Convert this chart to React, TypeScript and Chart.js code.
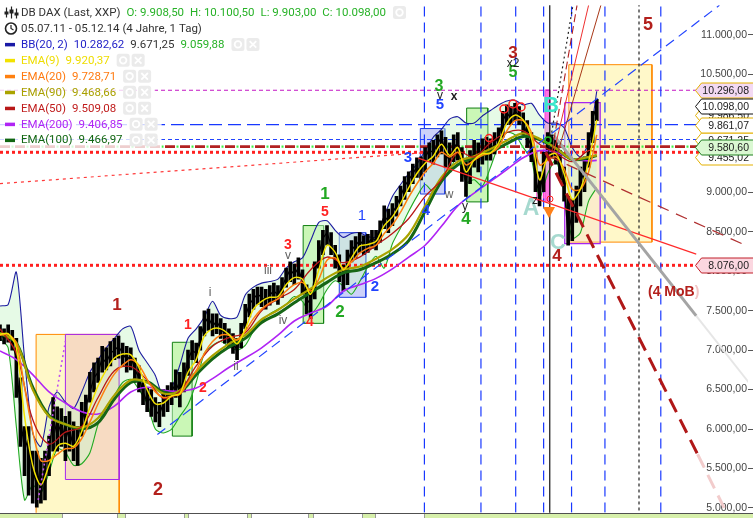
import React, { useEffect, useRef } from 'react';
import { Chart, registerables } from 'chart.js';

Chart.register(...registerables);

// ---------- scale ranges ----------
const X_MAX = 1098; // trading days shown (data + projection space)
const Y_MIN = 4939;
const Y_MAX = 11373;
const yTickValues = [5000, 5500, 6000, 6500, 7000, 7500, 8000, 8500, 9000, 9500, 10000, 10500, 11000];

// ---------- DAX, one sample every 6 trading days from 05.07.11 ----------
const CLOSE_STEP = 6;
const closes = [
  7210, 7150, 7240, 7090, 6900, 6160, 5720, 5910, 5290, 5540,
  5160, 5540, 5720, 6160, 5910, 6090, 5850, 6030, 5720, 5910,
  6090, 6280, 6470, 6650, 6720, 6900, 6840, 6960, 7000, 7050,
  6960, 6880, 6930, 6750, 6650, 6470, 6340, 6400, 6240, 6180,
  6340, 6400, 6470, 6590, 6470, 6650, 6880, 7000, 6960, 7150,
  7340, 7420, 7300, 7370, 7270, 7210, 7150, 7090, 7000, 7210,
  7420, 7580, 7650, 7710, 7670, 7620, 7700, 7750, 7700, 7800,
  7920, 8020, 7960, 8040, 7870, 7650, 7580, 7960, 8210, 8420,
  8490, 8330, 8210, 8040, 7900, 8120, 8270, 8330, 8390, 8330,
  8350, 8420, 8390, 8540, 8700, 8640, 8740, 8830, 8950, 9080,
  9160, 9240, 9320, 9260, 9450, 9530, 9510, 9610, 9700, 9510,
  9390, 9570, 9630, 9320, 9150, 9390, 9510, 9390, 9530, 9570,
  9510, 9630, 9700, 9910, 10010, 9940, 10030, 9980, 9880, 9730,
  9570, 9200, 8950, 9320, 9630, 9570, 9510, 9320, 9080, 8450,
  8760, 8890, 9140, 9260, 9570, 9940, 10098,
];
const highs = [
  7320, 7270, 7320, 7250, 7150, 6650, 6030, 6030, 5720, 5720,
  5630, 5720, 5910, 6400, 6280, 6260, 6160, 6220, 6090, 6030,
  6340, 6430, 6720, 6840, 6900, 7050, 7030, 7110, 7150, 7180,
  7090, 7050, 7030, 6900, 6800, 6590, 6530, 6500, 6400, 6340,
  6500, 6550, 6590, 6750, 6720, 6840, 7000, 7120, 7090, 7300,
  7500, 7520, 7460, 7460, 7400, 7340, 7270, 7210, 7150, 7340,
  7580, 7710, 7770, 7800, 7800, 7770, 7820, 7850, 7820, 7920,
  8040, 8120, 8090, 8170, 8020, 7830, 7770, 8120, 8390, 8520,
  8580, 8490, 8330, 8210, 8080, 8270, 8390, 8440, 8490, 8450,
  8470, 8520, 8520, 8640, 8830, 8790, 8860, 8950, 9080, 9200,
  9260, 9360, 9440, 9450, 9570, 9630, 9660, 9730, 9780, 9700,
  9630, 9730, 9760, 9570, 9390, 9530, 9660, 9630, 9680, 9700,
  9680, 9760, 9820, 10030, 10110, 10090, 10130, 10090, 10010, 9910,
  9760, 9510, 9260, 9510, 9760, 9730, 9660, 9530, 9320, 8950,
  8910, 9080, 9320, 9450, 9760, 10030, 10180,
];
const lows = [
  7120, 7080, 7100, 7000, 6400, 5780, 5410, 5160, 5060, 5010,
  5060, 5100, 5410, 5720, 5720, 5780, 5600, 5720, 5600, 5540,
  5910, 6030, 6340, 6470, 6590, 6720, 6750, 6800, 6880, 6900,
  6800, 6720, 6750, 6590, 6470, 6310, 6220, 6160, 6090, 6030,
  6160, 6220, 6310, 6400, 6280, 6470, 6680, 6880, 6840, 7000,
  7180, 7250, 7180, 7210, 7150, 7090, 7030, 6960, 6880, 7030,
  7270, 7420, 7520, 7580, 7550, 7520, 7570, 7620, 7580, 7670,
  7800, 7870, 7830, 7900, 7710, 7460, 7400, 7650, 8040, 8210,
  8330, 8210, 8040, 7870, 7750, 7830, 8120, 8170, 8240, 8210,
  8240, 8290, 8270, 8370, 8540, 8490, 8580, 8700, 8830, 8910,
  9010, 9110, 9190, 9160, 9260, 9390, 9360, 9450, 9490, 9320,
  9260, 9390, 9410, 9140, 8950, 9110, 9320, 9260, 9360, 9410,
  9410, 9490, 9570, 9700, 9860, 9860, 9910, 9860, 9730, 9570,
  9390, 9010, 8830, 9010, 9410, 9450, 9360, 9160, 8890, 8330,
  8390, 8620, 8830, 9010, 9320, 9630, 9910,
];

// ---------- Bollinger band & fast EMAs, one every 12 trading days ----------
const BAND_STEP = 12;
const bbUpper = [
  7560, 7580, 7990, 6900, 5950, 5780, 6280, 6470, 6340, 6260,
  6470, 6720, 6880, 7030, 7150, 7270, 7300, 7000, 6840, 6680,
  6400, 6520, 6810, 7150, 7270, 7420, 7620, 7440, 7400, 7420,
  7700, 7800, 7850, 7870, 7900, 8040, 8120, 8170, 8390, 8620,
  8640, 8520, 8430, 8480, 8490, 8440, 8440, 8700, 8950, 9100,
  9240, 9360, 9530, 9700, 9800, 9930, 9960, 9880, 9880, 9970,
  10040, 10110, 10160, 10170, 10110, 10130, 9980, 9880, 9880, 9820,
  9570, 9450, 9630, 10283,
];
const bbLower = [
  7150, 7030, 6030, 5100, 5290, 5190, 5450, 5750, 5700, 5540,
  5560, 5700, 6060, 6280, 6430, 6590, 6630, 6500, 6320, 6000,
  5950, 6000, 6160, 6310, 6590, 6960, 7060, 7110, 7050, 7000,
  7060, 7240, 7370, 7460, 7520, 7580, 7680, 7620, 7460, 7580,
  7770, 7880, 7810, 7710, 7870, 8060, 8190, 8040, 8350, 8550,
  8760, 8950, 9100, 9010, 9140, 9260, 9490, 9130, 9160, 9080,
  9320, 9600, 9760, 9730, 9570, 9420, 8940, 9240, 9410, 9000,
  8420, 8490, 8890, 9060,
];
const ema9 = [
  7200, 7210, 7030, 6160, 5540, 5290, 5540, 5780, 5820, 5780,
  5970, 6280, 6550, 6750, 6900, 6950, 6940, 6780, 6500, 6320,
  6330, 6420, 6450, 6720, 6880, 7180, 7270, 7270, 7200, 7080,
  7270, 7520, 7620, 7670, 7680, 7830, 7920, 7900, 7710, 8020,
  8330, 8240, 8020, 8170, 8320, 8340, 8380, 8580, 8690, 8860,
  9060, 9240, 9370, 9460, 9610, 9470, 9570, 9260, 9410, 9490,
  9500, 9630, 9880, 9980, 9920, 9700, 9160, 9450, 9490, 9240,
  8910, 9040, 9390, 9920,
];
const ema20 = [
  7190, 7200, 7090, 6530, 5970, 5600, 5600, 5680, 5750, 5760,
  5880, 6090, 6320, 6530, 6700, 6810, 6880, 6810, 6630, 6470,
  6400, 6420, 6440, 6590, 6740, 6960, 7110, 7190, 7190, 7130,
  7240, 7400, 7520, 7600, 7650, 7750, 7830, 7860, 7750, 7900,
  8140, 8170, 8040, 8120, 8230, 8290, 8330, 8480, 8590, 8750,
  8940, 9110, 9260, 9370, 9510, 9450, 9510, 9350, 9410, 9470,
  9500, 9580, 9780, 9910, 9910, 9760, 9350, 9410, 9450, 9300,
  9040, 9040, 9260, 9729,
];

// ---------- slow EMAs ----------
const slowDays = [
  0, 24, 48, 72, 96, 120, 144, 168, 192, 216, 240, 264, 288, 312, 336, 360, 384, 408, 432,
  456, 480, 504, 528, 552, 576, 600, 624, 648, 672, 696, 720, 744, 768, 792, 816, 840, 864, 876,
];
const ema50 = [
  7270, 6960, 6120, 5810, 5960, 6030, 6400, 6740, 6790, 6620,
  6390, 6480, 6800, 7050, 7160, 7220, 7500, 7650, 7770, 8020,
  8180, 8110, 8180, 8330, 8480, 8670, 8950, 9160, 9510, 9450,
  9630, 9760, 9780, 9610, 9500, 9390, 9530, 9509,
];
const ema90 = [
  7220, 7090, 6500, 6160, 6060, 6020, 6140, 6430, 6620, 6590,
  6450, 6490, 6730, 6930, 7080, 7190, 7390, 7510, 7650, 7780,
  7920, 8020, 8060, 8160, 8280, 8470, 8830, 9190, 9390, 9460,
  9550, 9660, 9750, 9680, 9560, 9420, 9450, 9469,
];
const ema100 = [
  7210, 7090, 6530, 6170, 6060, 6000, 6080, 6380, 6590, 6600,
  6470, 6470, 6690, 6890, 7040, 7150, 7350, 7460, 7600, 7730,
  7860, 7980, 8020, 8110, 8220, 8390, 8760, 9140, 9350, 9440,
  9510, 9620, 9710, 9670, 9560, 9420, 9440, 9467,
];
const ema200 = [
  6990, 6880, 6690, 6470, 6330, 6220, 6190, 6290, 6470, 6530,
  6490, 6480, 6520, 6640, 6780, 6900, 7030, 7190, 7370, 7470,
  7560, 7750, 7830, 7910, 8030, 8180, 8330, 8570, 8830, 8990,
  9140, 9290, 9440, 9530, 9510, 9420, 9400, 9407,
];

// ---------- drawn analysis objects (day, price) ----------
const levelPrices = [10296.08, 9861.07, 9671.25, 9580.6, 9509.08, 8076.0];
const verticalDays = [623, 706, 757, 798, 839, 888, 970];
const blackLineDay = 807;
const dottedLineDay = 938;
// boxes: [day1, price1, day2, price2]
const boxes = {
  yellowLeft: [53, 7200, 175, 4900],
  pinkLeft: [96, 7200, 175, 5360],
  green1: [253, 7100, 282, 5910],
  green2: [445, 8580, 475, 7340],
  blue1: [498, 8490, 537, 7670],
  blue2: [617, 9810, 653, 8980],
  green3: [685, 10070, 716, 8880],
  magentaBar: [800, 10300, 807, 8890],
  magentaBox: [788, 9630, 798, 8900],
  yellowRight: [835, 10620, 957, 8370],
  purpleRight: [829, 10140, 881, 8350],
};
// trend lines: [day1, price1, day2, price2]
const trendLines = {
  blueChannel: [231, 5930, 1056, 11373],
  redSupport: [614, 9435, 1022, 8218],
  redDotted: [0, 9112, 632, 9510],
  darkRedThin: [805, 9460, 1107, 8280],
  darkRedThick: [801, 9510, 1024, 5680],
  darkRedThickFade: [1024, 5680, 1063, 5000],
  grey: [813, 9720, 1022, 7435],
  greyFade: [1022, 7435, 1107, 6504],
  fanBlack: [805, 9510, 841, 11373],
  fanDash: [810, 9510, 847, 11373],
  fanRed: [813, 9510, 864, 11373],
  fanBrown: [817, 9450, 882, 11373],
  purpleDotted: [56, 5100, 96, 7113],
};

// ---------- texts ----------
const legendRows = [
  { icon: 'chart', parts: [['DB DAX (Last, XXP)', '#333333'], ['O: 9.908,50', '#27b227'], ['H: 10.100,50', '#27b227'], ['L: 9.903,00', '#27b227'], ['C: 10.098,00', '#27b227']], buttons: 1 },
  { icon: 'clock', parts: [['05.07.11 - 05.12.14 (4 Jahre, 1 Tag)', '#333333']], buttons: 0 },
  { swatch: '#1a1aa6', parts: [['BB(20, 2)', '#2222c8'], ['10.282,62', '#2222c8'], ['9.671,25', '#333333'], ['9.059,88', '#27b227']], buttons: 2 },
  { swatch: '#f2e200', parts: [['EMA(9)', '#eedd00'], ['9.920,37', '#eedd00']], buttons: 2 },
  { swatch: '#ff8010', parts: [['EMA(20)', '#ff7a10'], ['9.728,71', '#ff7a10']], buttons: 2 },
  { swatch: '#aaa300', parts: [['EMA(90)', '#a9a000'], ['9.468,66', '#a9a000']], buttons: 2 },
  { swatch: '#b81818', parts: [['EMA(50)', '#c01c1c'], ['9.509,08', '#c01c1c']], buttons: 2 },
  { swatch: '#b024f4', parts: [['EMA(200)', '#b024f4'], ['9.406,85', '#b024f4']], buttons: 2 },
  { swatch: '#116611', parts: [['EMA(100)', '#116611'], ['9.466,97', '#116611']], buttons: 2 },
];

const DR = '#b3201c';
const RED = '#ff2222';
const GRN = '#22a822';
const BLU = '#2244ff';
const GRY = '#606060';
const BLK = '#202020';
// [text, x, y, color, size, bold]
const waveLabels: [string, number, number, string, number, boolean][] = [
  ['1', 117, 305, DR, 17, true],
  ['2', 158, 490, DR, 18, true],
  ['1', 188, 325, RED, 14, true],
  ['2', 203, 388, RED, 14, true],
  ['i', 210, 293, GRY, 12, false],
  ['ii', 236, 367, GRY, 12, false],
  ['iii', 268, 271, GRY, 12, false],
  ['iv', 283, 321, GRY, 12, false],
  ['v', 288, 256, GRY, 12, false],
  ['3', 288, 245, RED, 14, true],
  ['1', 325, 194, GRN, 17, true],
  ['5', 325, 212, RED, 14, true],
  ['4', 310, 322, RED, 14, true],
  ['1', 362, 216, BLU, 15, false],
  ['2', 340, 312, GRN, 17, true],
  ['2', 375, 287, BLU, 15, true],
  ['3', 408, 158, BLU, 15, true],
  ['4', 426, 211, BLU, 15, true],
  ['3', 439, 87, GRN, 16, true],
  ['v', 440, 96, BLK, 12, false],
  ['5', 440, 105, BLU, 15, true],
  ['x', 454, 97, BLK, 12, true],
  ['w', 449, 195, GRY, 12, false],
  ['y', 465, 207, BLK, 12, false],
  ['4', 466, 219, GRN, 17, true],
  ['3', 513, 53, DR, 17, true],
  ['5', 513, 73, GRN, 16, true],
  ['x2', 513, 64, BLK, 12, false],
  ['A', 531, 209, '#a6d9cf', 23, true],
  ['z', 535, 201, BLK, 12, false],
  ['B', 551, 106, '#3ce6cc', 22, true],
  ['C', 558, 243, '#a6d9cf', 22, true],
  ['4', 557, 256, DR, 17, true],
  ['5', 648, 25, DR, 18, true],
];

// value tags on the price axis
const tags: [number, string, string, string][] = [
  [9986.5, '9.986,50', '#ffffff', '#e3b000'],
  [9671.25, '9.671,25', '#ffffff', '#e3b000'],
  [9455.02, '9.455,02', '#ffffff', '#e3b000'],
  [10296.08, '10.296,08', '#f3d9f3', '#e3b000'],
  [10098.0, '10.098,00', '#ffffff', '#111111'],
  [9861.07, '9.861,07', '#ffffff', '#e3b000'],
  [9580.6, '9.580,60', '#daf8d2', '#1f7f1f'],
  [8076.0, '8.076,00', '#fbd7e0', '#c0202a'],
];

const bottomTabs = [[62, 118], [125, 185], [188, 248], [251, 309], [313, 363], [375, 425]];

// ---------- helpers ----------
const fmtDe = (v: number) => {
  const [i, d] = Number(v).toFixed(2).split('.');
  return i.replace(/\B(?=(\d{3})+(?!\d))/g, '.') + ',' + d;
};
const stepSeries = (vals: number[], step: number) => vals.map((v, i) => ({ x: i * step, y: v }));
const daySeries = (days: number[], vals: number[]) => vals.map((v, i) => ({ x: days[i], y: v }));
const rangeSeries = (lo: number[], hi: number[], step: number) => lo.map((v, i) => ({ x: i * step, y: [v, hi[i]] }));
const seg = (l: number[], color: string, width: number, dash: number[] = [], extra: any = {}) => ({
  data: [{ x: l[0], y: l[1] }, { x: l[2], y: l[3] }],
  borderColor: color, borderWidth: width, borderDash: dash, pointRadius: 0, fill: false, tension: 0, ...extra,
});
const box = (b: number[], stroke: string, fillColor: string, width = 1) => ({
  data: [
    { x: b[0], y: b[1] }, { x: b[2], y: b[1] }, { x: b[2], y: b[3] }, { x: b[0], y: b[3] }, { x: b[0], y: b[1] },
  ],
  borderColor: stroke, borderWidth: width, backgroundColor: fillColor, fill: 'shape', pointRadius: 0, tension: 0,
});
const hline = (p: number, color: string, width: number, dash: number[], extra: any = {}) =>
  seg([0, p, X_MAX + 10, p], color, width, dash, extra);
const vline = (d: number, color: string, width: number, dash: number[]) =>
  seg([d, Y_MIN - 200, d, Y_MAX + 200], color, width, dash);

function roundRect(ctx: CanvasRenderingContext2D, x: number, y: number, w: number, h: number, r: number) {
  ctx.beginPath();
  ctx.moveTo(x + r, y);
  ctx.lineTo(x + w - r, y);
  ctx.quadraticCurveTo(x + w, y, x + w, y + r);
  ctx.lineTo(x + w, y + h - r);
  ctx.quadraticCurveTo(x + w, y + h, x + w - r, y + h);
  ctx.lineTo(x + r, y + h);
  ctx.quadraticCurveTo(x, y + h, x, y + h - r);
  ctx.lineTo(x, y + r);
  ctx.quadraticCurveTo(x, y, x + r, y);
  ctx.closePath();
}

function drawButton(ctx: CanvasRenderingContext2D, x: number, y: number, kind: 'o' | 'x') {
  ctx.save();
  ctx.fillStyle = '#ebebeb';
  roundRect(ctx, x, y - 6.5, 13, 13, 2.5);
  ctx.fill();
  ctx.strokeStyle = '#ffffff';
  ctx.lineWidth = 1.8;
  ctx.beginPath();
  if (kind === 'o') {
    ctx.arc(x + 6.5, y, 3.3, 0, Math.PI * 2);
  } else {
    ctx.moveTo(x + 3.2, y - 3.3); ctx.lineTo(x + 9.8, y + 3.3);
    ctx.moveTo(x + 9.8, y - 3.3); ctx.lineTo(x + 3.2, y + 3.3);
  }
  ctx.stroke();
  ctx.restore();
}

const overlayPlugin = {
  id: 'overlay',
  afterDatasetsDraw(chart: any) {
    const ctx: CanvasRenderingContext2D = chart.ctx;
    ctx.save();
    ctx.strokeStyle = '#ff2222';
    ctx.lineWidth = 1.5;
    [[504, 109, 4], [513, 104, 4], [521, 107, 4], [489, 138, 3.5]].forEach(([x, y, r]) => {
      ctx.beginPath(); ctx.arc(x, y, r, 0, Math.PI * 2); ctx.stroke();
    });
    ctx.lineWidth = 1;
    ctx.beginPath(); ctx.arc(550, 199, 3, 0, Math.PI * 2); ctx.stroke();
    ctx.strokeStyle = '#22bb22';
    ctx.lineWidth = 1.5;
    ctx.beginPath(); ctx.arc(548, 140, 3, 0, Math.PI * 2); ctx.stroke();
    ctx.fillStyle = '#ff8018';
    ctx.beginPath(); ctx.moveTo(543, 207); ctx.lineTo(555, 207); ctx.lineTo(549, 218); ctx.closePath(); ctx.fill();

    ctx.textAlign = 'center';
    ctx.textBaseline = 'middle';
    for (const [t, x, y, c, s, b] of waveLabels) {
      ctx.font = `${b ? 'bold ' : ''}${s}px "Liberation Sans", Arial, sans-serif`;
      ctx.fillStyle = c;
      ctx.fillText(t, x, y);
    }
    ctx.font = 'bold 14px "Liberation Sans", Arial, sans-serif';
    ctx.textAlign = 'left';
    ctx.fillStyle = DR;
    ctx.fillText('(4 MoB', 648, 292);
    const w = ctx.measureText('(4 MoB').width;
    ctx.fillStyle = '#f2c6c6';
    ctx.fillText(')', 648 + w, 292);
    ctx.restore();
  },
  afterDraw(chart: any) {
    const ctx: CanvasRenderingContext2D = chart.ctx;
    const ys = chart.scales.y;
    ctx.save();
    // bottom time bar
    ctx.fillStyle = '#d6efaa';
    ctx.fillRect(0, 513, 753, 5);
    ctx.fillStyle = '#ffffff';
    ctx.strokeStyle = '#9a9a9a';
    ctx.lineWidth = 1;
    for (const [a, b] of bottomTabs) {
      ctx.fillRect(a, 513.5, b - a, 5);
      ctx.strokeRect(a + 0.5, 513.5, b - a - 1, 6);
    }
    ctx.strokeStyle = '#505050';
    ctx.beginPath(); ctx.moveTo(0, 513.5); ctx.lineTo(753, 513.5); ctx.stroke();

    // value tags
    ctx.font = '10.5px "Liberation Sans", Arial, sans-serif';
    ctx.textAlign = 'right';
    ctx.textBaseline = 'middle';
    for (const [p, txt, bg, bd] of tags) {
      const y = Math.round(ys.getPixelForValue(p)) + 0.5;
      const h = 15;
      ctx.beginPath();
      ctx.moveTo(695.5, y);
      ctx.lineTo(701.5, y - h / 2);
      ctx.lineTo(754, y - h / 2);
      ctx.lineTo(754, y + h / 2);
      ctx.lineTo(701.5, y + h / 2);
      ctx.closePath();
      ctx.fillStyle = bg;
      ctx.fill();
      ctx.strokeStyle = bd;
      ctx.lineWidth = 1;
      ctx.stroke();
      ctx.fillStyle = '#222222';
      ctx.fillText(txt, 749, y + 0.5);
    }

    // legend block
    ctx.font = '11.5px Roboto, "Liberation Sans", sans-serif';
    ctx.textAlign = 'left';
    ctx.textBaseline = 'middle';
    legendRows.forEach((row: any, idx) => {
      const y = 12.5 + idx * 15.95;
      const gap = 6;
      const widths = row.parts.map((p: string[]) => ctx.measureText(p[0]).width);
      const textEnd = 21 + widths.reduce((a: number, b: number) => a + b, 0) + gap * (widths.length - 1);
      const end = row.buttons ? textEnd + 7 + row.buttons * 15 : textEnd;
      ctx.fillStyle = 'rgba(255,255,255,0.78)';
      ctx.fillRect(0, y - 8, end + 2, 16);
      let x = 21;
      row.parts.forEach((p: string[], i: number) => {
        ctx.fillStyle = p[1];
        ctx.fillText(p[0], x, y + 0.5);
        x += widths[i] + gap;
      });
      for (let b = 0; b < row.buttons; b++) {
        drawButton(ctx, textEnd + 7 + b * 15, y, b === 0 ? 'o' : 'x');
      }
      if (row.swatch) {
        ctx.fillStyle = row.swatch;
        ctx.fillRect(5, y - 1.5, 10, 3.5);
      } else if (row.icon === 'chart') {
        ctx.strokeStyle = '#222';
        ctx.fillStyle = '#222';
        ctx.lineWidth = 1.2;
        [[6, -5, 5, -1, 3], [11, -6, 6, -3, 4], [16, -4, 6, 0, 3]].forEach(([cx, t, bt, by, bh]) => {
          ctx.beginPath(); ctx.moveTo(cx + 0.5, y + t); ctx.lineTo(cx + 0.5, y + bt); ctx.stroke();
          ctx.fillRect(cx - 1.5, y + by, 4, bh);
        });
      } else if (row.icon === 'clock') {
        ctx.strokeStyle = '#222';
        ctx.lineWidth = 1.6;
        ctx.beginPath(); ctx.arc(11, y, 5.5, 0, Math.PI * 2); ctx.stroke();
        ctx.lineWidth = 1.2;
        ctx.beginPath(); ctx.moveTo(11, y - 3.5); ctx.lineTo(11, y); ctx.lineTo(13.5, y + 1.5); ctx.stroke();
      }
    });
    ctx.restore();
  },
};

export default function App() {
  const ref = useRef<HTMLCanvasElement | null>(null);
  useEffect(() => {
    if (!ref.current) return;
    const layers: any[] = [
      // boxes
      box(boxes.yellowLeft, '#ff8a00', 'rgba(255,244,170,0.65)'),
      box(boxes.pinkLeft, '#a526f0', 'rgba(240,192,190,0.5)'),
      box(boxes.yellowRight, '#ff8a00', 'rgba(255,243,165,0.6)'),
      box(boxes.purpleRight, '#a526f0', 'rgba(245,215,205,0.35)', 1.3),
      box(boxes.green1, '#127f12', 'rgba(150,240,110,0.5)'),
      box(boxes.green2, '#127f12', 'rgba(150,240,110,0.5)'),
      box(boxes.green3, '#127f12', 'rgba(150,240,110,0.5)'),
      box(boxes.blue1, '#1f3fe0', 'rgba(120,135,240,0.38)'),
      box(boxes.blue2, '#1f3fe0', 'rgba(120,135,240,0.38)'),
      box(boxes.magentaBox, '#ff3fd2', 'rgba(255,160,230,0.35)'),
      box(boxes.magentaBar, '#ff3fd2', 'rgba(255,100,225,0.9)'),
      // Bollinger band
      { data: stepSeries(bbUpper, BAND_STEP), borderColor: '#1c1ca0', borderWidth: 1.1, backgroundColor: 'rgba(205,245,205,0.5)', fill: '+1', pointRadius: 0, tension: 0.25 },
      { data: stepSeries(bbLower, BAND_STEP), borderColor: '#22aa22', borderWidth: 1.1, fill: false, pointRadius: 0, tension: 0.25 },
      // horizontal levels
      hline(levelPrices[0], '#c416c4', 1.1, [4, 3]),
      hline(levelPrices[1], '#1838ff', 1.3, [13, 6]),
      hline(levelPrices[2], '#2244ff', 1.2, [4, 3]),
      hline(levelPrices[3], '#b22020', 2.6, [10, 5]),
      hline(levelPrices[3], '#44ee44', 2.2, [2, 13], { borderDashOffset: -11.5 }),
      hline(levelPrices[4], '#ff2020', 3, [3, 3]),
      hline(levelPrices[5], '#ff2020', 3, [3, 3]),
      seg(trendLines.redDotted, '#ff3a3a', 1.2, [3, 4]),
      // vertical time lines
      ...verticalDays.map((d) => vline(d, '#1838ff', 1.2, [10, 6])),
      vline(blackLineDay, '#111111', 1.2, []),
      vline(dottedLineDay, '#222222', 1.2, [3, 3]),
      // price: high-low ranges and close
      { type: 'bar', data: rangeSeries(lows, highs, CLOSE_STEP), backgroundColor: '#000000', barThickness: 3, borderWidth: 0 },
      { data: stepSeries(closes, CLOSE_STEP), borderColor: '#000000', borderWidth: 1.3, fill: false, pointRadius: 0, tension: 0 },
      // EMAs
      { data: daySeries(slowDays, ema200), borderColor: '#b024f4', borderWidth: 1.6, fill: false, pointRadius: 0, tension: 0.35 },
      { data: daySeries(slowDays, ema100), borderColor: '#166616', borderWidth: 3, fill: false, pointRadius: 0, tension: 0.35 },
      { data: daySeries(slowDays, ema90), borderColor: '#aaa300', borderWidth: 2.2, fill: false, pointRadius: 0, tension: 0.35 },
      { data: daySeries(slowDays, ema50), borderColor: '#b81818', borderWidth: 1.3, fill: false, pointRadius: 0, tension: 0.35 },
      { data: stepSeries(ema20, BAND_STEP), borderColor: '#ff8010', borderWidth: 1.5, fill: false, pointRadius: 0, tension: 0.3 },
      { data: stepSeries(ema9, BAND_STEP), borderColor: '#f2e200', borderWidth: 1.5, fill: false, pointRadius: 0, tension: 0.3 },
      // trend lines
      seg(trendLines.blueChannel, '#2244ff', 1.2, [10, 6]),
      seg(trendLines.redSupport, '#ff2a2a', 1.1),
      seg(trendLines.darkRedThin, '#b03030', 1.2, [12, 8]),
      seg(trendLines.darkRedThick, '#b01818', 3, [15, 8]),
      seg(trendLines.darkRedThickFade, '#f2cccc', 3, [15, 8]),
      seg(trendLines.grey, '#a4a4a4', 3),
      seg(trendLines.greyFade, '#e6e6e6', 2),
      seg(trendLines.fanBlack, '#222222', 1.2, [2, 3]),
      seg(trendLines.fanDash, '#b02020', 1.1, [8, 4]),
      seg(trendLines.fanRed, '#ee3030', 1),
      seg(trendLines.fanBrown, '#a83818', 1),
      seg(trendLines.purpleDotted, '#c050f0', 1.6, [2, 3]),
    ];
    const n = layers.length;
    const datasets = layers.map((l, i) => ({ ...l, order: n - i }));

    const chart = new Chart(ref.current, {
      type: 'line',
      data: { datasets },
      options: {
        animation: false,
        responsive: false,
        devicePixelRatio: 1,
        events: [],
        layout: { padding: 0 },
        plugins: { legend: { display: false }, tooltip: { enabled: false } },
        elements: { point: { radius: 0 } },
        scales: {
          x: { type: 'linear', min: 0, max: X_MAX, display: false, offset: false },
          y: {
            type: 'linear',
            position: 'right',
            min: Y_MIN,
            max: Y_MAX,
            z: 1,
            afterBuildTicks: (s: any) => {
              s.ticks = yTickValues.map((v) => ({ value: v }));
            },
            ticks: {
              mirror: true,
              padding: -1,
              color: '#444444',
              font: { family: '"Liberation Sans", Arial, sans-serif', size: 10.5 },
              callback: (v: any) => fmtDe(Number(v)),
            },
            grid: { drawOnChartArea: false, drawTicks: true, tickLength: 7, color: '#555555' },
            border: { display: false },
          },
        },
      } as any,
      plugins: [overlayPlugin],
    } as any);
    return () => chart.destroy();
  }, []);

  return (
    <div style={{ position: 'absolute', left: 0, top: 0, width: 753, height: 518, background: '#ffffff' }}>
      <canvas ref={ref} width={753} height={518} style={{ width: 753, height: 518, display: 'block' }} />
    </div>
  );
}
